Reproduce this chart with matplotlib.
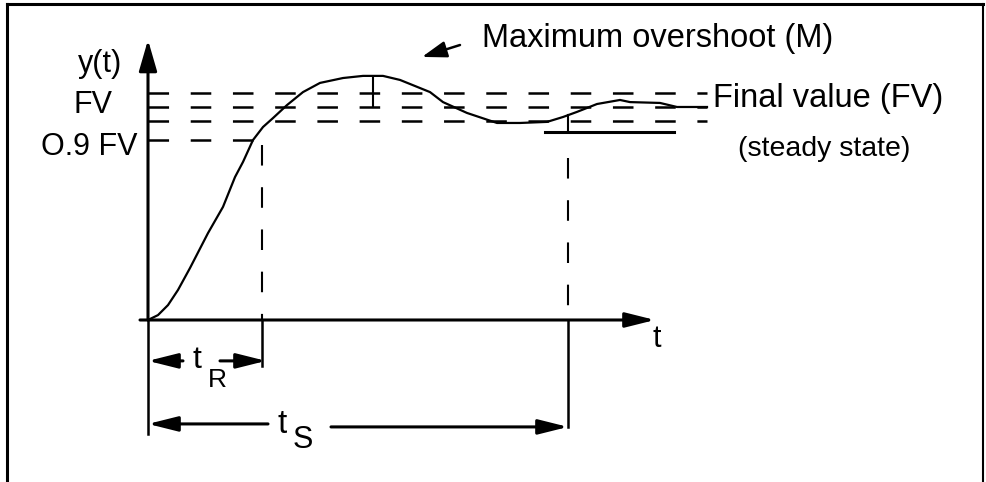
import matplotlib
matplotlib.use("Agg")
import matplotlib.pyplot as plt
from matplotlib.lines import Line2D

plt.rcParams['font.family'] = ['Liberation Sans', 'DejaVu Sans']
plt.rcParams['lines.scale_dashes'] = False

# step response (t in arbitrary units, y relative to FV)
t_curve = [0.00, 0.10, 0.20, 0.30, 0.42, 0.60, 0.75, 0.87, 0.95, 1.05, 1.15, 1.25,
           1.39, 1.55, 1.72, 1.95, 2.15, 2.35, 2.52, 2.82, 2.95, 3.19, 3.40, 3.49,
           3.72, 3.99, 4.15, 4.29, 4.49, 4.72, 4.82, 5.12, 5.29, 5.59]
y_curve = [0.000, 0.023, 0.070, 0.141, 0.244, 0.408, 0.531, 0.671, 0.742, 0.845,
           0.906, 0.948, 1.009, 1.070, 1.113, 1.136, 1.146, 1.146, 1.127, 1.070,
           1.023, 0.972, 0.939, 0.925, 0.925, 0.930, 0.953, 0.977, 1.014, 1.033,
           1.023, 1.019, 1.000, 1.000]

fv = 1.0
band_hi = 1.066
band_lo = 0.934
fv90 = 0.845
t_rise = 1.14
t_settle = 4.20
t_peak = 2.25
y_peak = 1.141
band_end = 5.59

lw_axis = 2.2
lw_dash = 1.8
dash = (0, (14.8, 15.6))

fig = plt.figure(figsize=(9.86, 4.82), dpi=100)
ax = fig.add_axes([0, 0, 1, 1])
ax.set_xlim(-1.48, 8.38)
ax.set_ylim(-0.7606, 1.5023)
ax.axis('off')

# frame: top, left and right edges (bottom runs off the picture)
top = 1 - 4 / 482
fig.add_artist(Line2D([7 / 986, 7 / 986], [0, top], color='black', lw=2.2,
                      transform=fig.transFigure))
fig.add_artist(Line2D([983 / 986, 983 / 986], [0, top], color='black', lw=1.5,
                      transform=fig.transFigure))
fig.add_artist(Line2D([7 / 986, 983 / 986], [top, top], color='black', lw=2.2,
                      transform=fig.transFigure))


def arrow(x0, y0, x1, y1, hl=1.8, hw=0.45, lw=lw_axis):
    ax.annotate('', xy=(x1, y1), xytext=(x0, y0),
                arrowprops=dict(arrowstyle=f'-|>,head_length={hl},head_width={hw}',
                                mutation_scale=10, lw=lw, color='black',
                                shrinkA=0, shrinkB=0))


# axes
arrow(0, 0, 0, 1.315, hl=1.9, hw=0.55)
arrow(-0.08, 0, 5.07, 0, hl=1.8, hw=0.45)

# dashed reference levels
for lvl in [band_hi, fv, band_lo]:
    ax.plot([0, band_end], [lvl, lvl], color='black', lw=lw_dash, linestyle=dash)
ax.plot([0, 1.10], [fv90, fv90], color='black', lw=lw_dash, linestyle=dash)

# response curve
ax.plot(t_curve, y_curve, color='black', lw=1.6)

# overshoot marker
ax.plot([t_peak, t_peak], [y_peak, fv], color='black', lw=1.5)

# rise time guide
ax.plot([t_rise, t_rise], [0.822, 0], color='black', lw=1.5, linestyle=dash)
ax.plot([t_rise, t_rise], [0, -0.216], color='black', lw=1.8)

# settling time guide and steady-state band
ax.plot([3.97, 5.26], [0.883, 0.883], color='black', lw=2.2)
ax.plot([t_settle, t_settle], [0.962, 0.883], color='black', lw=1.5)
ax.plot([t_settle, t_settle], [0.761, 0], color='black', lw=1.5, linestyle=dash)
ax.plot([t_settle, t_settle], [0, -0.502], color='black', lw=1.8)
ax.plot([0, 0], [0, -0.535], color='black', lw=1.8)

# time arrows
arrow(0.35, -0.192, 0.0, -0.192)
arrow(0.72, -0.192, 1.18, -0.192)
arrow(1.20, -0.488, 0.0, -0.488)
arrow(1.83, -0.502, t_settle, -0.502)

# overshoot pointer
arrow(3.12, 1.291, 2.74, 1.235, hl=1.5, hw=0.5, lw=1.8)

# labels
ax.text(3.34, 1.282, 'Maximum overshoot (M)', fontsize=23.5, ha='left', va='baseline')
ax.text(5.65, 1.0, 'Final value (FV)', fontsize=23.5, ha='left', va='baseline')
ax.text(5.90, 0.770, '(steady state)', fontsize=20.5, ha='left', va='baseline')
ax.text(-0.26, 1.164, 'y(t)', fontsize=22, ha='right', va='baseline')
ax.text(-0.35, 0.972, 'FV', fontsize=22, ha='right', va='baseline')
ax.text(-0.10, 0.775, 'O.9 FV', fontsize=22, ha='right', va='baseline')
ax.text(5.05, -0.127, 't', fontsize=22, ha='left', va='baseline')
ax.text(0.45, -0.225, 't', fontsize=23, ha='left', va='baseline')
ax.text(0.60, -0.315, 'R', fontsize=19, ha='left', va='baseline')
ax.text(1.30, -0.531, 't', fontsize=24, ha='left', va='baseline')
ax.text(1.45, -0.601, 'S', fontsize=22, ha='left', va='baseline')

fig.savefig('out.png', dpi=100)
